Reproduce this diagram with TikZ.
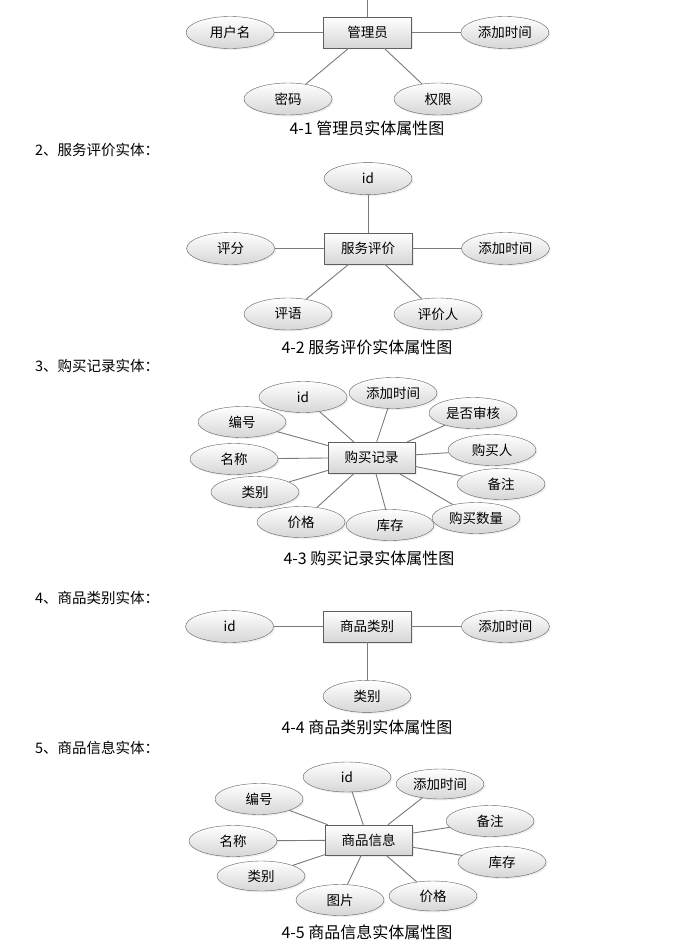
\documentclass[tikz,border=0pt]{standalone}
\usepackage{fontspec}
\newfontfamily\cjk{Noto Sans CJK SC}
\usepackage{xcolor}
\definecolor{edge}{HTML}{5f5f5f}
\definecolor{wire}{HTML}{7a7a7a}
\definecolor{shade}{HTML}{d6d6d6}
\usepackage{tikz}
\usetikzlibrary{
  positioning,
  shapes.geometric,
  shadows
}

\begin{document}
\begin{tikzpicture}[
  x=1pt, y=-1pt,
  entbox/.style={rectangle, draw=edge, top color=white, bottom color=shade, minimum width=88pt, minimum height=31pt, inner sep=0pt, font=\cjk\fontsize{13.5}{13.5}\selectfont, drop shadow={opacity=0.15, shadow xshift=1.5pt, shadow yshift=-1.5pt}},
  attr/.style={ellipse, draw=edge, top color=white, bottom color=shade, minimum width=88pt, minimum height=32pt, inner sep=0pt, font=\cjk\fontsize{13.5}{13.5}\selectfont, drop shadow={opacity=0.12, shadow xshift=1.5pt, shadow yshift=-1.5pt}},
  link/.style={draw=wire, line width=0.9pt},
  heading/.style={anchor=west, inner sep=0pt, font=\cjk\fontsize{14.5}{14.5}\selectfont},
  caption/.style={inner sep=0pt, font=\cjk\fontsize{16}{16}\selectfont},
]
\useasboundingbox[fill=white] (0,0) rectangle (698,942);

\node[entbox] (adm) at (367.5,32.5) {管理员};
\coordinate (admtop) at (367.5,0);
\node[attr, left=49pt of adm] (admname) {用户名};
\node[attr, right=49pt of adm] (admtime) {添加时间};
\node[attr] (admpwd) at (288,99) {密码};
\node[attr] (admright) at (438,99) {权限};
\node[caption] (cap1) at (367,128) {4-1 管理员实体属性图};

\draw[link] (adm) -- (admtop);
\draw[link] (adm) -- (admname);
\draw[link] (adm) -- (admtime);
\draw[link] (adm) -- (admpwd);
\draw[link] (adm) -- (admright);

\node[heading] (head2) at (35,150) {2、服务评价实体：};
\node[entbox] (rate) at (368,248.5) {服务评价};
\node[attr, above=38pt of rate] (rateid) {id};
\node[attr, left=49pt of rate] (ratescore) {评分};
\node[attr, right=49pt of rate] (ratetime) {添加时间};
\node[attr] (ratetext) at (288,314) {评语};
\node[attr] (rateuser) at (438,314) {评价人};
\node[caption] (cap2) at (367,347) {4-2 服务评价实体属性图};

\draw[link] (rate) -- (rateid);
\draw[link] (rate) -- (ratescore);
\draw[link] (rate) -- (ratetime);
\draw[link] (rate) -- (ratetext);
\draw[link] (rate) -- (rateuser);

\node[heading] (head3) at (35,366) {3、购买记录实体：};
\node[entbox, minimum width=87pt] (buy) at (371.5,457.5) {购买记录};
\node[attr, minimum height=31pt] (buyid) at (303,397) {id};
\node[attr, minimum height=31pt] (buytime) at (393,393) {添加时间};
\node[attr, minimum height=31pt] (buycheck) at (473,413) {是否审核};
\node[attr, minimum height=31pt] (buyno) at (242,422) {编号};
\node[attr, minimum height=31pt] (buyer) at (492,450) {购买人};
\node[attr, minimum height=31pt] (buyname) at (234,459) {名称};
\node[attr, minimum height=31pt] (buynote) at (501,484) {备注};
\node[attr, minimum height=31pt] (buytype) at (255,492) {类别};
\node[attr, minimum height=31pt] (buyprice) at (301,522) {价格};
\node[attr, minimum height=31pt] (buystock) at (390,525) {库存};
\node[attr, minimum height=31pt] (buyqty) at (476,518) {购买数量};
\node[caption] (cap3) at (369,558) {4-3 购买记录实体属性图};

\draw[link] (buy) -- (buyid);
\draw[link] (buy) -- (buytime);
\draw[link] (buy) -- (buycheck);
\draw[link] (buy) -- (buyno);
\draw[link] (buy) -- (buyer);
\draw[link] (buy) -- (buyname);
\draw[link] (buy) -- (buynote);
\draw[link] (buy) -- (buytype);
\draw[link] (buy) -- (buyprice);
\draw[link] (buy) -- (buystock);
\draw[link] (buy) -- (buyqty);

\node[heading] (head4) at (35,598) {4、商品类别实体：};
\node[entbox] (kind) at (367,626.5) {商品类别};
\node[attr, left=49pt of kind] (kindid) {id};
\node[attr, right=50pt of kind] (kindtime) {添加时间};
\node[attr, below=38pt of kind] (kindname) {类别};
\node[caption] (cap4) at (367,727) {4-4 商品类别实体属性图};

\draw[link] (kind) -- (kindid);
\draw[link] (kind) -- (kindtime);
\draw[link] (kind) -- (kindname);

\node[heading] (head5) at (35,748) {5、商品信息实体：};
\node[entbox, minimum width=87pt, minimum height=30pt] (goods) at (368.5,840) {商品信息};
\node[attr, minimum height=30pt] (goodsid) at (347,777) {id};
\node[attr, minimum height=30pt] (goodstime) at (440,784) {添加时间};
\node[attr, minimum height=31pt] (goodsno) at (259,799) {编号};
\node[attr, minimum height=31pt] (goodsnote) at (490,821) {备注};
\node[attr, minimum height=31pt] (goodsname) at (233,841) {名称};
\node[attr, minimum height=31pt] (goodsstock) at (502,862) {库存};
\node[attr, minimum height=30pt] (goodstype) at (261,876) {类别};
\node[attr, minimum height=31pt] (goodspic) at (340,900) {图片};
\node[attr, minimum height=30pt] (goodsprice) at (433,896) {价格};
\node[caption] (cap5) at (367,932) {4-5 商品信息实体属性图};

\draw[link] (goods) -- (goodsid);
\draw[link] (goods) -- (goodstime);
\draw[link] (goods) -- (goodsno);
\draw[link] (goods) -- (goodsnote);
\draw[link] (goods) -- (goodsname);
\draw[link] (goods) -- (goodsstock);
\draw[link] (goods) -- (goodstype);
\draw[link] (goods) -- (goodspic);
\draw[link] (goods) -- (goodsprice);

\end{tikzpicture}
\end{document}
